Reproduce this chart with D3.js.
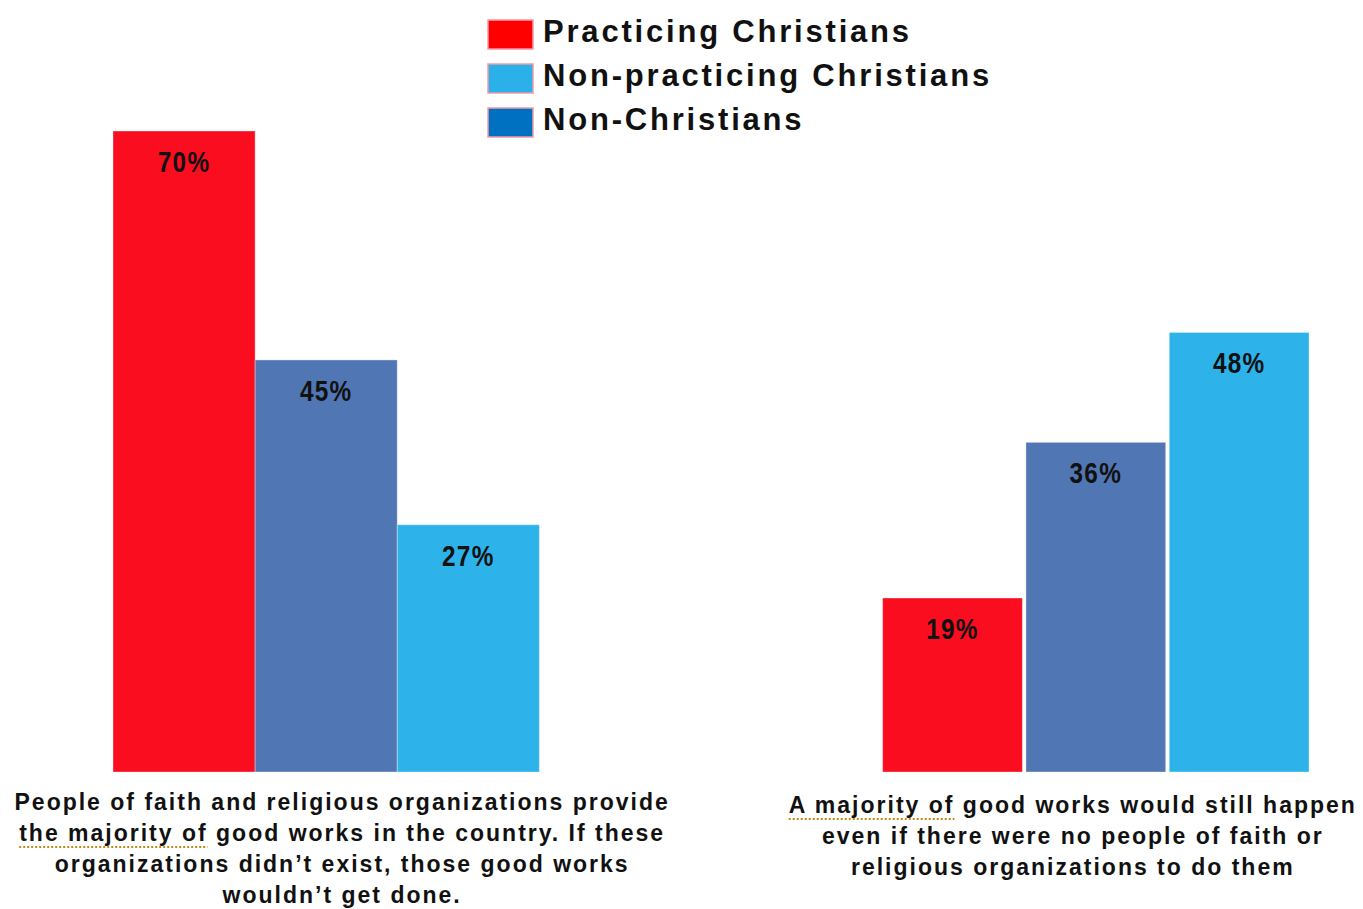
<!doctype html>
<html lang="en">
<head>
<meta charset="utf-8">
<title>Good works</title>
<script src="https://cdn.jsdelivr.net/npm/d3@7"></script>
<style>
	body { margin: 0; background: #fff; }
	text { font-family: "Liberation Sans", Arial, sans-serif; font-weight: bold; fill: #111; }
</style>
</head>
<body>
<div id="viz"></div>
<script>

var w = 1363,
	h = 909;

// DATA
var groups = ["faith", "without"];
var barSeries = ["Practicing Christians", "Non-Christians", "Non-practicing Christians"];
var faithValues = [70, 45, 27];
var withoutValues = [19, 36, 48];
var legendNames = ["Practicing Christians", "Non-practicing Christians", "Non-Christians"];
var captions = [
	["People of faith and religious organizations provide",
	 "the majority of good works in the country. If these",
	 "organizations didn\u2019t exist, those good works",
	 "wouldn\u2019t get done."],
	["A majority of good works would still happen",
	 "even if there were no people of faith or",
	 "religious organizations to do them"]
];
var flagged = ["the majority of", "A majority of"];

var barColors = ["#f90d1f", "#5077b3", "#2db2ea"];
var legendColors = ["#ff0000", "#2ab1e9", "#0070c0"];

var values = { faith: faithValues, without: withoutValues };

var svg = d3.select("#viz")
	.append("svg")
	.attr("width", w)
	.attr("height", h);

var x0 = d3.scaleBand().domain(groups).range([113, 1309]).paddingInner(0.446);
var innerPad = { faith: 0, without: 0.025 };
var y = d3.scaleLinear().domain([0, 70]).range([772, 131]);

groups.forEach(function(g, gi) {
	var x1 = d3.scaleBand().domain(barSeries).range([0, x0.bandwidth()]).paddingInner(innerPad[g]);

	var gG = svg.append("g")
		.attr("transform", "translate(" + x0(g) + ",0)");

	var data = barSeries.map(function(s, i) { return { name: s, value: values[g][i], color: barColors[i] }; });

	gG.selectAll("rect")
		.data(data)
		.enter()
		.append("rect")
		.attr("x", d => x1(d.name))
		.attr("y", d => y(d.value))
		.attr("width", x1.bandwidth())
		.attr("height", d => y(0) - y(d.value))
		.style("fill", d => d.color)
		.style("stroke", "rgba(255,255,255,0.35)")
		.style("stroke-width", 1);

	// value labels, slightly condensed like the original
	gG.selectAll("g.lbl")
		.data(data)
		.enter()
		.append("g")
		.attr("class", "lbl")
		.attr("transform", d => "translate(" + (x1(d.name) + x1.bandwidth() / 2) + "," + (y(d.value) + 41) + ")scale(0.84,1)")
		.append("text")
		.attr("text-anchor", "middle")
		.style("font-size", "29px")
		.style("letter-spacing", "1.5px")
		.text(d => d.value + "%");

	// caption under each group
	var cx = x0(g) + x0.bandwidth() / 2 + (gi === 0 ? 16 : -23);
	var capG = svg.append("g");
	var base = gi === 0 ? 810 : 813;
	captions[gi].forEach(function(line, li) {
		var t = capG.append("text")
			.attr("x", cx)
			.attr("y", base + li * 31)
			.attr("text-anchor", "middle")
			.style("font-size", "23px")
			.style("letter-spacing", "2px")
			.text(line);

		// dotted grammar-check underline
		var k = line.indexOf(flagged[gi]);
		if (k > -1) {
			var node = t.node();
			var xa = node.getStartPositionOfChar(k).x;
			var xb = node.getEndPositionOfChar(k + flagged[gi].length - 1).x;
			capG.append("line")
				.attr("x1", xa)
				.attr("x2", xb)
				.attr("y1", base + li * 31 + 6)
				.attr("y2", base + li * 31 + 6)
				.style("stroke", "#c08a1a")
				.style("stroke-width", 2)
				.style("stroke-dasharray", "2,2");
		}
	});
});

// LEGEND
var legend = svg.append("g").attr("transform", "translate(488,20)");
var item = legend.selectAll("g")
	.data(legendNames)
	.enter()
	.append("g")
	.attr("transform", (d, i) => "translate(0," + i * 44 + ")");

item.append("rect")
	.attr("width", 45)
	.attr("height", 29)
	.style("fill", (d, i) => legendColors[i])
	.style("stroke", "#f29aa6")
	.style("stroke-width", 1.5);

item.append("text")
	.attr("x", 55)
	.attr("y", 22)
	.style("font-size", "31px")
	.style("letter-spacing", "2.8px")
	.text(d => d);

</script>
</body>
</html>
